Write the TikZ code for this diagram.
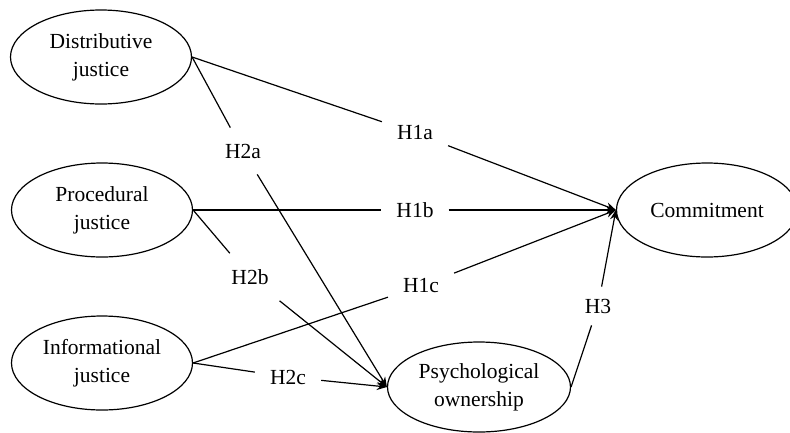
\documentclass[tikz,border=0pt]{standalone}
\usepackage{fontspec}
\setmainfont{Liberation Serif}
\usetikzlibrary{shapes.geometric,arrows.meta}
\begin{document}
\begin{tikzpicture}[x=1pt,y=-1pt,
  construct/.style={ellipse,draw,line width=1.2pt,minimum width=181pt,minimum height=94pt,inner sep=0pt,align=center,font=\fontsize{21.5}{28}\selectfont},
  hyp/.style={rectangle,inner xsep=15pt,inner ysep=16pt,font=\fontsize{21.5}{26}\selectfont},
  link/.style={line width=1.2pt},
  arr/.style={line width=1.2pt,-{Stealth[length=10pt,width=8pt]}}]
\useasboundingbox (0,0) rectangle (790,432);
\node[construct] (dj) at (101,57) {Distributive\\justice};
\node[construct] (pj) at (102,210) {Procedural\\justice};
\node[construct] (ij) at (102,363) {Informational\\justice};
\node[construct] (com) at (707,210) {Commitment};
\node[construct,minimum width=183pt,minimum height=90pt] (po) at (479,387) {Psychological\\ownership};
\node[hyp] (h1a) at (415,133) {H1a};
\node[hyp] (h1b) at (415,210) {H1b};
\node[hyp] (h1c) at (421,286) {H1c};
\node[hyp] (h2a) at (243,151) {H2a};
\node[hyp] (h2b) at (250,277) {H2b};
\node[hyp] (h2c) at (288,377) {H2c};
\node[hyp,inner xsep=8pt,inner ysep=12pt] (h3) at (598,306) {H3};
\draw[link] (dj.east) -- (h1a); \draw[arr] (h1a) -- (com.west);
\draw[link] (pj.east) -- (h1b); \draw[arr] (h1b) -- (com.west);
\draw[link] (ij.east) -- (h1c); \draw[arr] (h1c) -- (com.west);
\draw[link] (dj.east) -- (h2a); \draw[arr] (h2a) -- (po.west);
\draw[link] (pj.east) -- (h2b); \draw[arr] (h2b) -- (po.west);
\draw[link] (ij.east) -- (h2c); \draw[arr] (h2c) -- (po.west);
\draw[link] (po.east) -- (h3); \draw[arr] (h3) -- (com.west);
\end{tikzpicture}
\end{document}
